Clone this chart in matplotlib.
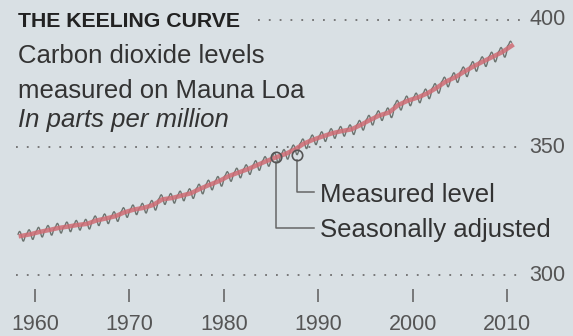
import matplotlib
matplotlib.use("Agg")
import matplotlib.pyplot as plt
import numpy as np

years = list(range(1958, 2011))
annual = [315.3, 315.97, 316.91, 317.64, 318.45, 318.99, 319.62, 320.04, 321.38, 322.16,
          323.04, 324.62, 325.68, 326.32, 327.45, 329.68, 330.18, 331.11, 332.04, 333.83,
          335.40, 336.84, 338.75, 340.11, 341.45, 343.05, 344.65, 346.12, 347.42, 349.19,
          351.57, 353.12, 354.39, 355.61, 356.45, 357.10, 358.83, 360.82, 362.61, 363.73,
          366.70, 368.38, 369.55, 371.14, 373.28, 375.80, 377.52, 379.80, 381.90, 383.79,
          385.60, 387.43, 389.90]
# monthly offset from the annual mean as drawn, Jan..Dec
season = [-0.2, 0.2, 0.7, 1.5, 1.8, 1.4, 0.4, -0.9, -1.9, -2.0, -1.2, 0.0]

grid_levels = [300, 350, 400]
tick_years = [1960, 1970, 1980, 1990, 2000, 2010]

bg = "#d9e0e4"
red = "#cf6b73"
grey = "#6b736f"
txt = "#333333"
lab = "#555555"

# measured: one point per month (Mar 1958 .. Jun 2010)
t_meas = []
v_meas = []
for y, a in zip(years, annual):
    for m in range(12):
        t_meas.append(y + (m + 0.5) / 12)
        v_meas.append(a + season[m])
t_meas = t_meas[2:-6]
v_meas = v_meas[2:-6]

# seasonally adjusted: annual means at mid-year
t_adj = [y + 0.5 for y in years]

fig = plt.figure(figsize=(5.73, 3.36), dpi=100)
fig.patch.set_facecolor(bg)
ax = fig.add_axes([0, 0, 1, 1])
ax.set_facecolor(bg)
ax.axis("off")
ax.set_xlim(1956.29, 2016.99)
ax.set_ylim(276.08, 407.84)

plt.rcParams["font.family"] = ["Liberation Sans", "DejaVu Sans"]

# dotted gridlines + right labels
for g in grid_levels:
    start = 1983.6 if g == 400 else 1958.0
    ax.plot([start, 2011.4], [g, g], color="#6f6f6f", lw=1.3,
            linestyle=(0, (1, 5)), zorder=1)
    ax.text(2012.4, g, str(g), ha="left", va="center", fontsize=15.5, color=lab)

# year ticks
ax.vlines(tick_years, 289.4, 294.5, color="#666666", lw=1.2)
for yr in tick_years:
    ax.text(yr, 280.4, str(yr), ha="center", va="center", fontsize=15.5, color=lab)

# curves
ax.plot(t_meas, v_meas, color=grey, lw=1.0, zorder=2)
ax.plot(t_adj, annual, color=red, lw=3.2, alpha=0.85, zorder=3)

# callouts
i_adj = years.index(1985)
i_meas = t_meas.index(next(t for t in t_meas if t > 1987.75))
cx_a, cy_a = t_adj[i_adj], annual[i_adj]
cx_m, cy_m = t_meas[i_meas], v_meas[i_meas]
ax.plot([cx_a, cx_a, 1989.6], [cy_a - 2, 318.4, 318.4], color="#666666", lw=1.1, zorder=4)
ax.plot([cx_m, cx_m, 1989.6], [cy_m - 2, 332.5, 332.5], color="#666666", lw=1.1, zorder=4)
ax.plot([cx_a, cx_m], [cy_a, cy_m], linestyle="none", marker="o", ms=7.5,
        mfc="none", mec="#555555", mew=1.2, zorder=5)
ax.text(1990.2, 328.6, "Measured level", ha="left", va="baseline",
        fontsize=18.5, color=txt)
ax.text(1990.2, 314.9, "Seasonally adjusted", ha="left", va="baseline",
        fontsize=18.5, color=txt)

# heading
fig.text(0.0314, 0.9196, "THE KEELING CURVE", fontsize=15.3, fontweight="bold",
         color="#222222", va="baseline")
fig.text(0.0314, 0.8125, "Carbon dioxide levels", fontsize=18.5, color=txt, va="baseline")
fig.text(0.0314, 0.7083, "measured on Mauna Loa", fontsize=18.5, color=txt, va="baseline")
fig.text(0.0314, 0.622, "In parts per million", fontsize=18.5, style="italic",
         color=txt, va="baseline")

fig.savefig("out.png", dpi=100, facecolor=bg)
